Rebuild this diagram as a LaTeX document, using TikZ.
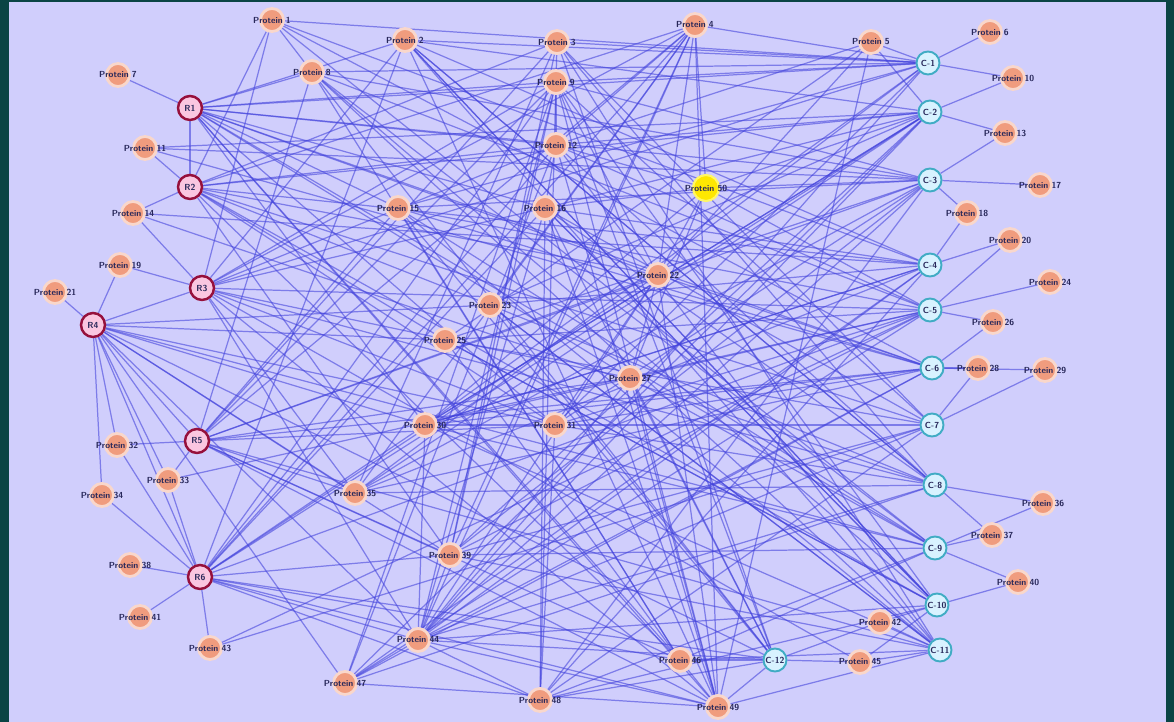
\documentclass[tikz,border=0pt]{standalone}
\usetikzlibrary{backgrounds}
\definecolor{framecol}{RGB}{10,68,68}
\definecolor{paper}{RGB}{208,206,252}
\definecolor{linkcol}{RGB}{66,66,220}
\definecolor{salmon}{RGB}{240,156,126}
\definecolor{hubred}{RGB}{150,16,60}
\definecolor{hubpink}{RGB}{250,198,224}
\definecolor{hubcyan}{RGB}{64,172,196}
\definecolor{hubice}{RGB}{216,242,255}
\definecolor{labelcol}{RGB}{40,40,90}

\begin{document}
\begin{tikzpicture}[x=0.02cm, y=-0.02cm,
    gene/.style={circle, fill=salmon, draw=salmon!40!white, line width=1.6pt, minimum size=0.46cm, inner sep=0pt},
    genetext/.style={font=\sffamily\bfseries\fontsize{5}{5}\selectfont, text=labelcol, inner sep=0pt},
    redhub/.style={circle, fill=hubpink, draw=hubred, line width=1.4pt, minimum size=0.48cm, inner sep=0pt,
        font=\sffamily\bfseries\fontsize{5}{5}\selectfont, text=labelcol},
    cyanhub/.style={circle, fill=hubice, draw=hubcyan, line width=1.1pt, minimum size=0.46cm, inner sep=0pt,
        font=\sffamily\bfseries\fontsize{5}{5}\selectfont, text=labelcol},
    seednode/.style={circle, fill=yellow!90!orange, draw=yellow!60!white, line width=1.2pt, minimum size=0.52cm, inner sep=0pt},
    link/.style={draw=linkcol, line width=0.7pt, opacity=0.58}]

    % Rahmen und Hintergrund
    \begin{scope}[on background layer]
        \fill[framecol] (0,0) rectangle (1174,722);
        \fill[paper] (9,2) rectangle (1166,722);
    \end{scope}

    % Knoten (Proteine)
    \foreach \n/\x/\y in {1/272/20, 2/405/40, 3/557/42, 4/695/25, 5/871/42, 6/990/32,
            7/118/75, 8/312/72, 9/556/82, 10/1013/78, 11/145/148, 12/556/145,
            13/1005/133, 14/133/213, 15/398/208, 16/545/208, 17/1040/185, 18/967/213,
            19/120/265, 20/1010/240, 21/55/292, 22/658/275, 23/490/305, 24/1050/282,
            25/445/340, 26/993/322, 27/630/378, 28/978/368, 29/1045/370, 30/425/425,
            31/555/425, 32/117/445, 33/168/480, 34/102/495, 35/355/493, 36/1043/503,
            37/992/535, 38/130/565, 39/450/555, 40/1018/582, 41/140/617, 42/880/622,
            43/210/648, 44/418/640, 45/860/662, 46/680/660, 47/345/683, 48/540/700,
            49/718/707}
        \node[gene, label={[genetext]center:Protein \n}] (s\n) at (\x,\y) {};

    % Knoten links (rot) und rechts (cyan)
    \foreach \n/\x/\y in {1/190/108, 2/190/187, 3/202/288, 4/93/325, 5/197/441, 6/200/577}
        \node[redhub] (r\n) at (\x,\y) {R\n};
    \foreach \n/\x/\y in {1/928/63, 2/930/112, 3/930/180, 4/930/265, 5/930/310, 6/932/368,
            7/932/425, 8/935/485, 9/935/548, 10/937/605, 11/940/650, 12/775/660}
        \node[cyanhub] (c\n) at (\x,\y) {C-\n};
    \node[seednode, label={[genetext]center:Protein 50}] (seed) at (706,188) {};

    % Kanten
    \begin{scope}[on background layer]
        \foreach \a/\bs in {
                r1/{s7,s8,s2,s9,c1,c3,s16,s22,s27,s31,c6,c9,s46,s49,s15,s30,r2,s12},
                r2/{s11,s14,s1,s3,s12,c2,c4,s22,s23,s31,c7,c10,s39,s46,s25,s4},
                r3/{s19,s14,s1,s2,s9,c1,c5,s16,s27,c8,s31,s45,s49,s44,s35,s4,s12},
                r4/{s21,s19,r3,s32,s33,s34,r5,r6,s30,s35,s44,s39,s25,s23,c9,c12,s31,s47},
                r5/{s32,s33,s8,s3,s4,s15,c3,c6,s27,s31,c11,s49,s46,s35,s39,s22,s9},
                r6/{s38,s41,s43,s33,s34,s32,s44,s48,s39,s30,s2,s9,c2,c5,s12,s4,s16,s46,s49,c12,s22},
                c1/{s5,s6,s10,s1,s8,s2,s3,s15,s30,s35,s44,s31,s4,s9},
                c2/{s10,s13,s5,s11,s2,s12,s23,s30,s44,s47,s35,s16},
                c3/{s13,s17,s18,s8,s9,s15,s25,s39,s44,s48,s11},
                c4/{s18,s20,s1,s2,s16,s23,s35,s44,s30,s14,s47},
                c5/{s20,s24,s26,s8,s12,s15,s30,s43,s39,s33,s25},
                c6/{s28,s26,s29,s11,s15,s31,s30,s35,s47,s44,s22},
                c7/{s28,s29,s3,s9,s16,s25,s30,s39,s44,s48,s43},
                c8/{s36,s37,s2,s12,s23,s31,s35,s44,s47,s14},
                c9/{s37,s36,s40,s1,s8,s15,s27,s30,s39,s48,s46},
                c10/{s40,s42,s2,s9,s16,s25,s44,s48,s45},
                c11/{s42,s45,s3,s12,s23,s30,s39,s46,s49},
                c12/{s46,s49,s45,s3,s8,s16,s15,s27,s44,s48,s42},
                s49/{s46,s44,s47,s9,s12,s16,s22,s27,s2,s4,s5},
                s44/{s47,s48,s30,s39,s16,s9,s4,s22,s27},
                s22/{s4,s5,s9,s27,s31},
                s12/{s4,s5,s16,s9},
                s1/{s8,c6},
                s2/{c8,c10,c11},
                s8/{c10,c11,s46},
                s3/{c8,s39},
                s9/{c12,s39},
                s15/{c11,s46},
                s16/{c10,c8},
                s23/{c11,c12,s4},
                s25/{c10,s46,s5},
                s30/{c2,c4},
                s31/{c3,c5,s48},
                s35/{s4,s3,c3},
                s39/{s4,c2},
                s47/{s9,s12,c5},
                s48/{s3,s16,c4},
                seed/{s4,s12,s16,s22,c2,c3,c5,s27,s30}}
            \foreach \b in \bs
                \draw[link] (\a) -- (\b);
    \end{scope}
\end{tikzpicture}
\end{document}
